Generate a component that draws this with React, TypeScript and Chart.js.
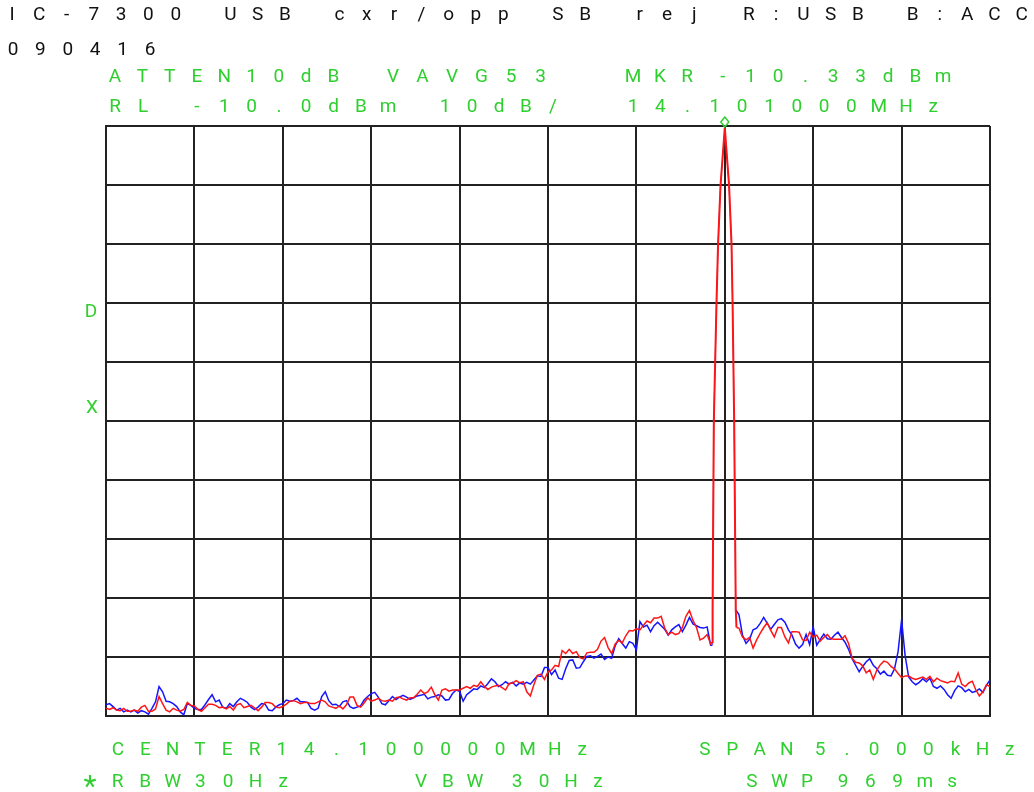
import React, { useEffect, useRef } from "react";
import { Chart, registerables } from "chart.js";

Chart.register(...registerables);

// Sweep bins: frequency offset from centre (Hz), 20 Hz per bin, 251 bins across the 5 kHz span
const SWEEP_HZ = Array.from({ length: 251 }, (_, i) => -2500 + i * 20);

// Blue trace (dBm) per sweep bin; nulls where the carrier peak is given separately
const BLUE_DBM: (number | null)[] = [
  -108.1, -107.9, -108.4, -109.0, -108.7, -109.3, -109.0, -109.3, -109.0, -109.5,
  -109.1, -109.3, -109.7, -108.7, -107.6, -105.0, -105.9, -107.5, -107.6, -107.9,
  -108.4, -109.3, -109.8, -107.9, -108.2, -108.7, -108.9, -108.9, -108.1, -107.2,
  -106.4, -107.6, -107.3, -108.5, -108.7, -107.9, -108.4, -107.6, -107.0, -107.3,
  -107.7, -108.5, -108.9, -108.5, -107.9, -108.0, -109.0, -109.1, -108.5, -108.1,
  -107.9, -107.3, -107.5, -107.4, -107.0, -107.6, -107.6, -107.7, -108.7, -109.0,
  -108.7, -106.7, -105.9, -107.4, -108.1, -108.0, -108.4, -107.6, -107.4, -108.4,
  -108.7, -108.5, -108.3, -107.3, -106.7, -106.2, -106.0, -106.8, -107.9, -108.1,
  -107.4, -106.7, -107.2, -106.8, -106.5, -106.8, -107.2, -106.9, -106.6, -106.5,
  -106.3, -107.1, -106.8, -106.7, -106.4, -106.6, -107.3, -107.2, -106.2, -105.6,
  -105.8, -107.5, -106.4, -105.9, -105.4, -105.5, -104.9, -105.2, -104.5, -103.7,
  -104.2, -105.0, -104.7, -104.2, -104.6, -104.3, -104.9, -104.4, -104.6, -104.3,
  -104.6, -103.9, -103.2, -103.3, -101.8, -101.8, -103.0, -102.2, -103.6, -103.8,
  -102.0, -100.6, -100.5, -101.9, -101.8, -100.8, -99.9, -99.8, -100.2, -99.9,
  -99.5, -100.4, -100.0, -100.2, -98.1, -96.9, -97.7, -98.5, -97.4, -97.7,
  -98.8, -94.0, -94.9, -94.6, -95.7, -94.7, -94.1, -94.7, -95.3, -96.3,
  -95.4, -94.9, -94.5, -95.7, -94.6, -93.3, -94.4, -94.7, -95.0, -95.1,
  -94.9, -98.0, null, null, null, null, null, null, null, -92.8,
  -96.3, -97.7, -97.0, -95.4, -95.1, -94.3, -93.3, -94.3, -95.3, -94.5,
  -93.7, -93.5, -94.1, -95.4, -96.3, -97.8, -98.5, -97.9, -96.2, -97.9,
  -94.9, -98.0, -97.0, -96.1, -96.9, -97.0, -96.3, -95.8, -96.7, -97.5,
  -98.7, -100.3, -101.4, -102.5, -101.6, -100.8, -100.3, -101.4, -102.0, -102.9,
  -102.4, -103.1, -103.2, -102.0, -99.1, -93.7, -99.8, -103.4, -104.2, -104.7,
  -104.3, -103.7, -104.2, -103.6, -105.0, -105.3, -104.9, -105.5, -106.4, -107.0,
  -105.7, -104.9, -105.2, -105.9, -105.5, -106.0, -105.8, -105.4, -106.0, -104.8,
  -103.9,
];

// Red trace (dBm) per sweep bin
const RED_DBM: (number | null)[] = [
  -108.7, -108.9, -108.6, -109.0, -109.1, -108.7, -109.2, -109.2, -109.0, -109.2,
  -108.5, -108.2, -109.2, -109.2, -108.8, -106.7, -107.9, -109.0, -109.3, -108.7,
  -109.0, -109.2, -108.9, -107.7, -108.2, -108.3, -108.9, -109.2, -108.6, -108.0,
  -108.0, -108.2, -108.6, -108.5, -108.8, -108.4, -109.0, -108.1, -107.9, -108.6,
  -108.4, -108.2, -108.6, -109.1, -108.5, -107.7, -107.7, -107.9, -108.5, -108.6,
  -108.4, -108.0, -107.5, -107.4, -107.6, -107.9, -107.7, -107.7, -107.9, -107.9,
  -107.6, -107.3, -107.6, -108.3, -108.5, -108.7, -108.3, -108.8, -108.1, -106.8,
  -106.8, -108.2, -108.5, -107.8, -106.9, -107.5, -107.3, -107.0, -107.4, -107.5,
  -107.3, -107.5, -106.9, -106.8, -107.1, -107.3, -106.9, -106.9, -106.3, -105.6,
  -106.2, -105.9, -105.1, -106.4, -107.3, -105.6, -105.4, -105.8, -105.6, -105.6,
  -105.6, -105.3, -105.0, -105.3, -104.8, -105.0, -104.2, -105.0, -105.5, -105.1,
  -104.9, -104.8, -105.2, -105.6, -104.5, -104.4, -104.0, -104.4, -104.2, -105.9,
  -106.6, -104.7, -103.1, -102.9, -103.8, -102.5, -102.2, -101.4, -101.6, -98.9,
  -99.4, -98.7, -99.4, -99.1, -100.1, -100.3, -99.3, -99.2, -99.2, -98.7,
  -97.3, -96.7, -98.4, -99.4, -97.8, -97.2, -97.6, -96.4, -95.5, -95.6,
  -95.2, -95.4, -94.6, -93.9, -94.2, -93.4, -93.4, -93.1, -95.1, -96.2,
  -95.8, -96.2, -96.0, -95.0, -93.1, -92.1, -93.8, -95.0, -97.1, -96.8,
  -96.2, -97.8, null, null, null, null, null, null, null, -95.1,
  -96.6, -97.1, -96.7, -98.5, -97.1, -96.0, -95.0, -94.2, -95.5, -96.6,
  -95.0, -95.0, -96.6, -97.6, -95.7, -95.7, -95.8, -97.1, -97.2, -95.8,
  -96.6, -96.3, -97.3, -96.7, -96.2, -96.9, -97.0, -97.0, -97.0, -96.4,
  -97.7, -100.2, -100.9, -101.0, -101.5, -102.7, -102.2, -103.8, -102.2, -101.3,
  -100.7, -100.9, -101.6, -102.0, -102.8, -103.5, -103.2, -103.2, -103.6, -103.8,
  -103.6, -103.4, -103.8, -103.3, -104.2, -103.6, -104.0, -104.2, -104.4, -104.1,
  -104.2, -102.7, -104.6, -105.0, -104.4, -104.1, -105.6, -106.6, -105.9, -104.7,
  -105.0,
];

// Carrier peak (marker at 14.101000 MHz = +1000 Hz from centre)
const PEAK_RED_HZ = [928, 931, 938, 953, 962, 976, 1000, 1024, 1038, 1044, 1053, 1062, 1066];
const PEAK_RED_DBM = [-97.5, -92, -60, -40, -30, -20, -10.33, -20, -30, -40, -60, -92, -95];
const PEAK_BLUE_HZ = [928, 931, 938, 953, 962, 976, 1000, 1024, 1038, 1044, 1053, 1062];
const PEAK_BLUE_DBM = [-98, -92, -60, -40, -30, -20, -10.5, -20, -30, -40, -60, -92];

const MARKER_HZ = 1000;
const MARKER_DBM = -10.33;

const REF_LEVEL = -10;
const DB_PER_DIV = 10;
const SPAN_HZ = 5000;

const BLACK = "#111111";
const GREEN = "#2fcf2f";

// [text, first char centre x, pitch, baseline y, colour]
const LABELS: [string, number, number, number, string][] = [
  ["IC-7300 USB cxr/opp SB rej R:USB B:ACC", 12, 27.29, 20, BLACK],
  ["090416", 13, 27.4, 55, BLACK],
  ["ATTEN10dB", 115, 27.3, 82, GREEN],
  ["VAVG53", 393, 29.5, 82, GREEN],
  ["MKR", 633, 27, 82, GREEN],
  ["-10.33dBm", 723, 27.5, 82, GREEN],
  ["RL", 115, 28, 112, GREEN],
  ["-10.0dBm", 197, 27.3, 112, GREEN],
  ["10dB/", 445, 27, 112, GREEN],
  ["14.101000MHz", 633, 27.3, 112, GREEN],
  ["D", 91, 27, 317, GREEN],
  ["X", 92, 27, 413, GREEN],
  ["CENTER14.100000MHz", 118, 27.3, 755, GREEN],
  ["SPAN", 705, 27.3, 755, GREEN],
  ["5.000kHz", 820, 27.1, 755, GREEN],
  ["*RBW30Hz", 90, 27.6, 787, GREEN],
  ["VBW", 421, 27, 787, GREEN],
  ["30Hz", 517, 27, 787, GREEN],
  ["SWP", 752, 27.5, 787, GREEN],
  ["969ms", 843, 27.3, 787, GREEN],
];

function buildSeries(sweep: (number | null)[], peakHz: number[], peakDbm: number[]) {
  const pts: { x: number; y: number }[] = [];
  SWEEP_HZ.forEach((hz, i) => {
    const v = sweep[i];
    if (v !== null && v !== undefined) pts.push({ x: hz, y: v });
  });
  peakHz.forEach((hz, i) => pts.push({ x: hz, y: peakDbm[i] }));
  pts.sort((a, b) => a.x - b.x);
  return pts;
}

const FONT = '19px Roboto, "DejaVu Sans", sans-serif';
const STAR_FONT = '30px Roboto, "DejaVu Sans", sans-serif';

const overlayPlugin = {
  id: "overlay",
  afterDraw(chart: any) {
    const ctx = chart.ctx;
    ctx.save();
    ctx.textAlign = "center";
    ctx.textBaseline = "alphabetic";
    LABELS.forEach(([text, x0, pitch, y, color]) => {
      ctx.fillStyle = color;
      for (let i = 0; i < text.length; i++) {
        const ch = text[i];
        if (ch === " ") continue;
        if (ch === "*") {
          ctx.font = STAR_FONT;
          ctx.fillText(ch, x0 + i * pitch, y + 9);
        } else {
          ctx.font = FONT;
          ctx.fillText(ch, x0 + i * pitch, y);
        }
      }
    });
    // marker diamond above the carrier peak
    const xs = chart.scales.x;
    const ys = chart.scales.y;
    const mx = xs.getPixelForValue(MARKER_HZ);
    const my = ys.getPixelForValue(MARKER_DBM) - 6;
    ctx.strokeStyle = GREEN;
    ctx.lineWidth = 1.5;
    ctx.beginPath();
    ctx.moveTo(mx, my - 5);
    ctx.lineTo(mx + 4, my);
    ctx.lineTo(mx, my + 5);
    ctx.lineTo(mx - 4, my);
    ctx.closePath();
    ctx.stroke();
    ctx.restore();
  },
};

const inPeak = (c: any) =>
  c.p0.parsed.x >= PEAK_RED_HZ[0] && c.p1.parsed.x <= PEAK_RED_HZ[PEAK_RED_HZ.length - 1];

export default function App() {
  const ref = useRef<HTMLCanvasElement | null>(null);
  useEffect(() => {
    if (!ref.current) return;
    const chart = new Chart(ref.current, {
      type: "line",
      data: {
        datasets: [
          {
            label: "B",
            data: buildSeries(RED_DBM, PEAK_RED_HZ, PEAK_RED_DBM),
            borderColor: "#ff1515",
            borderWidth: 1.5,
            pointRadius: 0,
            tension: 0,
            segment: { borderWidth: (c: any) => (inPeak(c) ? 2.0 : 1.5) },
          },
          {
            label: "A",
            data: buildSeries(BLUE_DBM, PEAK_BLUE_HZ, PEAK_BLUE_DBM),
            borderColor: "#1515ff",
            borderWidth: 1.5,
            pointRadius: 0,
            tension: 0,
            segment: { borderWidth: (c: any) => (inPeak(c) ? 0.7 : 1.5) },
          },
        ],
      },
      options: {
        animation: false,
        responsive: false,
        devicePixelRatio: 1,
        layout: { padding: { left: 106, top: 126, right: 44, bottom: 76 } },
        plugins: { legend: { display: false }, tooltip: { enabled: false } },
        scales: {
          x: {
            type: "linear",
            min: -SPAN_HZ / 2,
            max: SPAN_HZ / 2,
            ticks: { display: false, stepSize: SPAN_HZ / 10 },
            grid: { color: "#222", lineWidth: 2, drawTicks: false },
            border: { display: true, color: "#222", width: 2 },
          },
          y: {
            type: "linear",
            min: REF_LEVEL - 10 * DB_PER_DIV,
            max: REF_LEVEL,
            ticks: { display: false, stepSize: DB_PER_DIV },
            grid: { color: "#222", lineWidth: 2, drawTicks: false },
            border: { display: true, color: "#222", width: 2 },
          },
        },
      },
      plugins: [overlayPlugin],
    });
    return () => chart.destroy();
  }, []);
  return (
    <div style={{ position: "absolute", left: 0, top: 0, width: 1034, height: 792, background: "#fff" }}>
      <canvas ref={ref} width={1034} height={792} style={{ width: 1034, height: 792, display: "block" }} />
    </div>
  );
}
